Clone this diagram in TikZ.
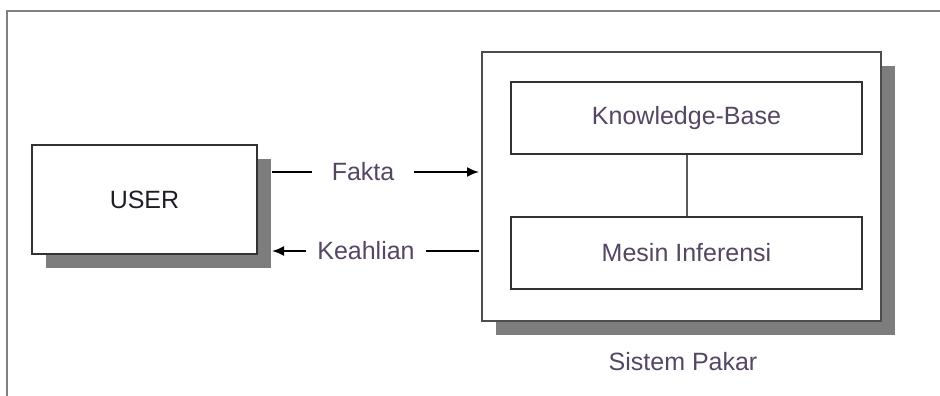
\documentclass[tikz,border=0pt]{standalone}
\usepackage{fontspec}
\setmainfont{Liberation Sans}
\usetikzlibrary{shadows,arrows.meta}
\definecolor{framegray}{RGB}{128,128,128}
\definecolor{shadowgray}{RGB}{125,125,125}
\definecolor{boxline}{RGB}{50,50,50}
\definecolor{lblcol}{RGB}{85,70,100}
\definecolor{usercol}{RGB}{30,30,40}
\tikzset{
  shadowbox/.style={draw=boxline, line width=1.8pt, fill=white,
    general shadow={fill=shadowgray, shadow xshift=14pt, shadow yshift=-14pt}},
  innerbox/.style={draw=boxline, line width=1.5pt, fill=white},
  txt/.style={font=\fontsize{25}{30}\selectfont, text=lblcol},
  lbl/.style={txt, fill=white, inner ysep=2pt},
  arr/.style={line width=1.8pt, -{Latex[length=12pt,width=10pt]}}
}
\begin{document}
\begin{tikzpicture}[x=1pt,y=-1pt]
\useasboundingbox (0,0) rectangle (940,396);
\fill[white] (0,0) rectangle (940,396);
\draw[framegray, line width=2pt] (7,396) -- (7,11) -- (940,11);

\node[shadowbox, minimum width=225pt, minimum height=109pt,
  font=\fontsize{25}{30}\selectfont, text=usercol] (user) at (144.5,199.5) {USER};

\node[shadowbox, draw=framegray!60!black, minimum width=399pt, minimum height=269pt] (sp) at (681.5,186.5) {};
\node[innerbox, minimum width=351pt, minimum height=72pt, txt] (kb) at (686.5,118) {Knowledge-Base};
\node[innerbox, minimum width=351pt, minimum height=72pt, txt] (mi) at (686.5,253) {Mesin Inferensi};
\draw[framegray!70!black, line width=2pt] (kb.south) -- (mi.north);

\node[txt] (splbl) at (683,362) {Sistem Pakar};

\coordinate (uf) at (272,172);
\coordinate (sk) at (479,251);
\coordinate (uk) at (272,251);
\coordinate (sf) at (479,172);
\draw[arr] (uf) -- node[lbl, pos=.44, inner xsep=20pt] {Fakta} (sf);
\draw[arr] (sk) -- node[lbl, pos=.546, inner xsep=11pt] {Keahlian} (uk);
\end{tikzpicture}
\end{document}
